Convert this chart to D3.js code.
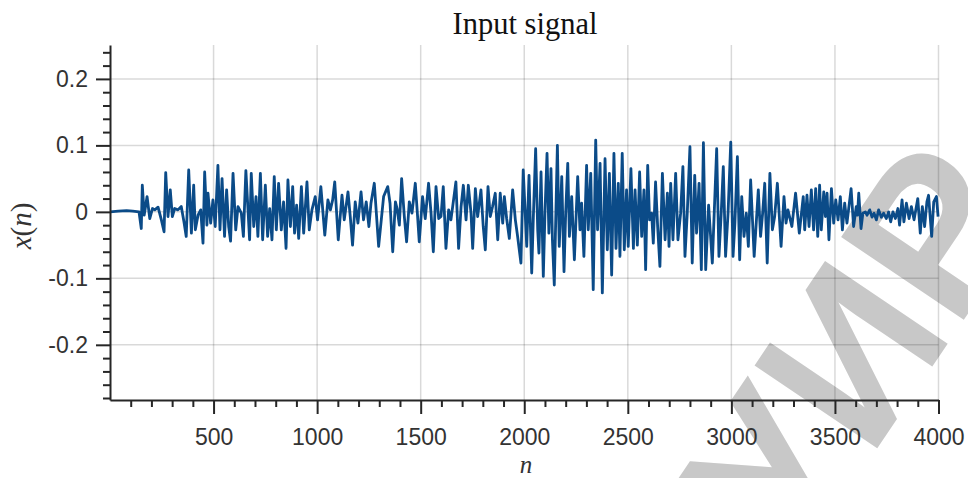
<!DOCTYPE html>
<html><head><meta charset="utf-8">
<script src="https://cdn.jsdelivr.net/npm/d3@7"></script>
<style>html,body{margin:0;padding:0;background:#fff;}svg{display:block;}</style>
</head><body>
<svg id="c" width="968" height="478"></svg>
<script>
// ---- data (local extrema of x(n)) ----
const sampleN = [1,40,80,110,140,151,156,165,179,192,205,216,232,248,261,269,280,291,301,312,328,344,357,368,380,393,404,412,425,438,449,457,468,473,486,497,508,521,531,541,553,563,573,582,594,607,618,634,644,656,
674,682,694,705,714,726,737,750,761,771,782,793,803,814,827,838,850,859,871,882,891,901,911,924,935,951,962,975,991,1002,1018,1037,1052,1064,1075,1085,1102,1120,1131,1149,1160,1171,1184,1197,1212,1224,1237,1250,1260,1276,1297,1321,
1341,1352,1365,1378,1386,1397,1408,1421,1432,1445,1458,1474,1485,1493,1509,1522,1538,1550,1561,1574,1587,1598,1609,1622,1635,1646,1670,1683,1695,1706,1719,1730,1743,1751,1764,1775,1791,1802,1812,1825,1836,1847,1860,1872,1884,1896,1904,1915,1928,1944,1957,1968,1984,1995,
2012,2023,2036,2044,2055,2065,2071,2081,2092,2100,2110,2119,2129,2136,2145,2160,2169,2181,2192,2200,2210,2218,2229,2242,2258,2269,2277,2288,2301,2309,2321,2333,2345,2354,2366,2377,2390,2401,2411,2422,2433,2443,2454,2462,2473,2483,2494,2502,2515,2527,2535,2546,2557,2567,2578,2586,2596,2605,2615,2623,2634,2644,2655,2667,
2680,2691,2699,2707,2718,2731,2742,2755,2766,2776,2787,2800,2811,2823,2832,2844,2855,2865,2876,2890,2908,2929,2940,2951,2961,2972,2984,2997,3008,3017,3029,3040,3050,3061,3072,3082,3093,3110,3130,3141,3151,3161,3173,3186,3198,3209,3222,3240,3254,3264,3273,3292,3310,3328,3347,
3354,3365,3375,3386,3397,3407,3417,3426,3434,3446,3454,3462,3471,3483,3494,3504,3515,3526,3536,3547,3558,3578,3590,3603,3609,3615,3626,3635,3647,3655,3668,3679,3689,3700,3711,3724,3735,3748,3759,3769,3780,3792,3804,3812,3824,3833,3845,3858,3869,3882,3900,3912,3922,3933,3944,3952,3967,3977,3990,3998];
const sampleX = [0.000,0.001,0.002,0.001,0.000,-0.025,0.040,-0.005,0.023,-0.010,0.005,0.003,0.007,-0.012,-0.030,0.059,-0.007,0.033,-0.007,0.005,0.003,0.008,-0.015,-0.037,0.063,-0.032,0.040,-0.027,-0.005,0.003,-0.047,0.060,-0.020,0.028,-0.017,0.018,-0.022,0.070,-0.027,0.050,-0.037,0.033,-0.022,-0.044,0.058,-0.027,0.008,-0.002,-0.037,0.062,
-0.042,0.058,-0.022,0.023,-0.037,0.058,-0.042,0.040,-0.037,0.005,-0.042,0.053,-0.027,0.043,-0.027,0.015,-0.055,0.048,-0.022,0.038,-0.032,0.010,-0.040,0.038,-0.032,0.045,-0.027,0.003,0.023,-0.012,0.038,-0.035,0.018,0.003,0.018,0.045,-0.042,0.025,-0.012,0.030,-0.007,-0.050,0.015,-0.017,0.030,-0.012,0.015,-0.022,0.013,0.043,-0.052,0.023,
0.038,0.013,-0.060,0.015,0.005,-0.020,0.050,-0.007,-0.045,0.015,-0.002,0.043,-0.007,-0.045,0.023,-0.010,0.043,-0.002,-0.060,0.038,-0.010,-0.007,0.038,-0.055,0.003,-0.012,0.045,-0.055,0.008,0.040,-0.012,0.040,-0.002,-0.055,0.035,-0.007,0.033,-0.022,-0.057,0.038,-0.007,0.008,0.028,-0.042,0.028,-0.017,0.023,-0.010,-0.040,0.033,-0.012,-0.037,-0.077,0.063,
-0.052,0.055,-0.092,-0.007,0.095,-0.027,-0.062,0.060,-0.097,-0.002,0.088,-0.032,0.065,-0.042,-0.110,0.100,-0.052,0.053,-0.090,-0.002,0.073,-0.037,0.023,-0.072,0.053,-0.027,0.013,-0.067,0.070,-0.027,0.058,-0.117,0.108,-0.027,0.073,-0.122,0.080,-0.057,0.058,-0.095,0.088,-0.055,0.043,-0.067,0.088,-0.057,0.033,-0.052,0.065,-0.055,0.033,-0.050,0.060,-0.037,0.033,-0.087,0.070,-0.012,-0.002,-0.047,0.045,-0.022,-0.082,0.058,
-0.042,0.028,-0.052,0.043,-0.042,0.058,-0.042,-0.002,0.068,-0.067,-0.002,0.098,-0.077,0.055,-0.032,0.043,-0.087,0.104,-0.087,0.010,-0.077,0.095,-0.067,-0.002,0.068,-0.067,-0.002,0.105,-0.067,-0.017,0.083,-0.072,0.023,-0.037,-0.002,-0.052,0.048,-0.067,0.033,-0.037,-0.002,0.043,-0.077,0.058,-0.027,-0.007,0.043,-0.052,0.023,-0.017,0.003,-0.022,0.028,-0.032,0.023,
-0.027,0.025,-0.022,0.033,-0.027,0.035,-0.037,0.040,-0.027,0.030,-0.007,0.028,-0.042,0.035,-0.017,0.018,-0.012,0.023,-0.027,0.013,-0.017,0.035,-0.022,0.008,-0.005,0.028,-0.025,-0.002,0.000,-0.005,0.003,-0.008,-0.002,-0.012,0.003,-0.008,-0.002,-0.010,0.000,-0.015,0.000,-0.010,0.005,-0.020,0.018,-0.015,0.013,-0.010,0.008,-0.012,0.020,-0.032,0.008,-0.022,0.015,0.025,-0.037,0.015,0.023,-0.007];

const xTickValues = [500,1000,1500,2000,2500,3000,3500,4000];
const xTickLabels = ["500","1000","1500","2000","2500","3000","3500","4000"];
const yTickValues = [-0.2,-0.1,0,0.1,0.2];
const yTickLabels = ["-0.2","-0.1","0","0.1","0.2"];
const xMinorStep = 100;
const yMinorStep = 0.02;
const titleText = "Input signal";
const watermarkText = "БГУИР";

// ---- chart ----
const svg = d3.select("#c");
const x = d3.scaleLinear().domain([0, 4000]).range([110, 938.5]);
const y = d3.scaleLinear().domain([-0.283, 0.251]).range([400, 45]);

// watermark (behind)
svg.append("text")
  .attr("transform", "translate(640,800) rotate(-56)")
  .attr("font-family", "Liberation Sans, Arial, sans-serif")
  .attr("font-weight", "bold")
  .attr("font-size", 215)
  .attr("fill", "#c8c8c8")
  .text(watermarkText);

// grid
const grid = svg.append("g").attr("stroke", "rgba(0,0,0,0.15)").attr("stroke-width", 1.5);
grid.selectAll("line.v").data(xTickValues).join("line")
  .attr("x1", d => x(d)).attr("x2", d => x(d)).attr("y1", y.range()[1]).attr("y2", y.range()[0]);
grid.selectAll("line.h").data(yTickValues).join("line")
  .attr("x1", x.range()[0]).attr("x2", x.range()[1]).attr("y1", d => y(d)).attr("y2", d => y(d));

// signal
const pts = sampleN.map((n, i) => [n, sampleX[i]]);
svg.append("path").datum(pts)
  .attr("fill", "none").attr("stroke", "#0b4b88").attr("stroke-width", 2.8)
  .attr("stroke-linejoin", "round")
  .attr("d", d3.line().x(d => x(d[0])).y(d => y(d[1])));

// axes
const axisColor = "#262626";
const xMinor = d3.range(100, 4000, xMinorStep).filter(v => v % 500 !== 0);
const yMinor = d3.range(-0.28, 0.2501, yMinorStep).map(v => Math.round(v * 100) / 100).filter(v => Math.abs(Math.round(v * 10) - v * 10) > 1e-6);

const gx = svg.append("g").attr("transform", `translate(0,${y.range()[0]})`);
gx.call(d3.axisBottom(x).tickValues(xMinor).tickSize(7).tickSizeOuter(0).tickFormat(""));
gx.call(g => g.select(".domain").remove());
const gx2 = svg.append("g").attr("transform", `translate(0,${y.range()[0]})`);
gx2.call(d3.axisBottom(x).tickValues(xTickValues).tickSize(14).tickSizeOuter(0).tickPadding(14.5)
  .tickFormat((d, i) => xTickLabels[i]));

const gy = svg.append("g").attr("transform", `translate(${x.range()[0]},0)`);
gy.call(d3.axisLeft(y).tickValues(yMinor).tickSize(7).tickSizeOuter(0).tickFormat(""));
gy.call(g => g.select(".domain").remove());
const gy2 = svg.append("g").attr("transform", `translate(${x.range()[0]},0)`);
gy2.call(d3.axisLeft(y).tickValues(yTickValues).tickSize(14).tickSizeOuter(0).tickPadding(8)
  .tickFormat((d, i) => yTickLabels[i]));

svg.selectAll(".domain, .tick line").attr("stroke", axisColor).attr("stroke-width", 2);
svg.selectAll(".tick text").attr("fill", "#333").attr("font-size", 23)
  .attr("font-family", "Liberation Sans, Arial, Helvetica, sans-serif");

// title & labels
svg.append("text").attr("x", 525).attr("y", 34).attr("text-anchor", "middle")
  .attr("font-family", "Liberation Serif, Times New Roman, serif").attr("font-size", 30.5)
  .attr("fill", "#111").text(titleText);
svg.append("text").attr("x", 526).attr("y", 472.5).attr("text-anchor", "middle")
  .attr("font-family", "Liberation Serif, Times New Roman, serif").attr("font-style", "italic")
  .attr("font-size", 25).attr("fill", "#333").text("n");
svg.append("text").attr("transform", "translate(31,226) rotate(-90)").attr("text-anchor", "middle")
  .attr("font-family", "Liberation Serif, Times New Roman, serif").attr("font-size", 29)
  .attr("fill", "#333")
  .call(t => {
    t.append("tspan").attr("font-style", "italic").text("x");
    t.append("tspan").text("(");
    t.append("tspan").attr("font-style", "italic").text("n");
    t.append("tspan").text(")");
  });
</script>
</body></html>
